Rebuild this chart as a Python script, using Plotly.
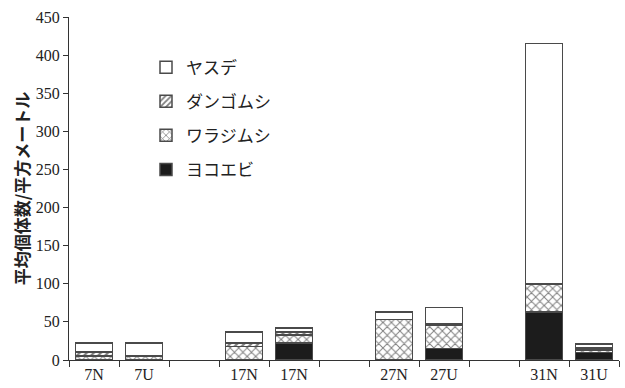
import plotly.graph_objects as go

# Sampling sites (blank entries are spacer slots between site groups)
sites = ["7N", "7U", "", "17N", "17N", "", "27N", "27U", "", "31N", "31U"]

# Mean individuals per square metre, by taxon
yokoebi = [None, None, None, None, 22, None, None, 15, None, 63, 10]
warajimushi = [5, 5, None, 18, 11, None, 53, 31, None, 37, 3]
dangomushi = [5.5, None, None, 4, 4, None, None, 2, None, None, 3]
yasude = [11.5, 17, None, 15, 5, None, 10, 21, None, 315, 5]

y_ticks = [0, 50, 100, 150, 200, 250, 300, 350, 400, 450]

positions = list(range(len(sites)))
label_pos = [p for p, s in zip(positions, sites) if s]
label_txt = [s for s in sites if s]
boundaries = [p - 0.5 for p in positions] + [positions[-1] + 0.5]

# (name, values, fill colour, pattern, legend rank)
series = [
    ("ヨコエビ", yokoebi, "#1c1c1c", None, 4),
    ("ワラジムシ", warajimushi, "white",
     dict(shape="x", size=6, solidity=0.3, fgcolor="#000", bgcolor="white"), 3),
    ("ダンゴムシ", dangomushi, "white",
     dict(shape="/", size=5, solidity=0.45, fgcolor="#000", bgcolor="white"), 2),
    ("ヤスデ", yasude, "white", None, 1),
]

fig = go.Figure()
for name, vals, color, pat, rank in series:
    marker = dict(color=color, line=dict(color="#4a4a4a", width=1.5))
    if pat:
        marker["pattern"] = pat
    fig.add_trace(go.Bar(
        x=positions, y=vals, name=name, legendgroup=name, legendrank=rank,
        marker=marker, width=0.74,
    ))

fig.update_layout(
    width=625, height=388,
    margin=dict(l=69, r=6, t=17, b=28),
    barmode="stack",
    plot_bgcolor="white", paper_bgcolor="white",
    showlegend=True,
    legend=dict(
        x=0.14, y=0.905, xanchor="left", yanchor="top",
        traceorder="grouped", tracegroupgap=9,
        font=dict(family="Noto Sans CJK JP", size=17, color="#222"),
        bgcolor="rgba(0,0,0,0)",
    ),
    font=dict(family="Liberation Serif", size=16, color="#222"),
)

fig.update_xaxes(
    range=[-0.5, len(sites) - 0.5],
    tickmode="array", tickvals=label_pos, ticktext=label_txt,
    ticks="", showgrid=False, zeroline=False,
    showline=True, linecolor="#333", linewidth=1.2,
    tickfont=dict(family="Liberation Serif", size=16, color="#222"),
    minor=dict(tickmode="array", tickvals=boundaries, ticks="outside",
               ticklen=6, tickcolor="#333", tickwidth=1.2, showgrid=False),
)

fig.update_yaxes(
    range=[0, 450],
    tickmode="array", tickvals=y_ticks,
    ticks="outside", ticklen=5, tickcolor="#333", tickwidth=1.2,
    showgrid=False, zeroline=False,
    showline=True, linecolor="#333", linewidth=1.2,
    tickfont=dict(family="Liberation Serif", size=16, color="#222"),
    title=dict(text="平均個体数/平方メートル", standoff=1,
               font=dict(family="Noto Sans CJK JP", size=17, color="#222",
                         weight="bold")),
)

fig.write_html("out.html")
